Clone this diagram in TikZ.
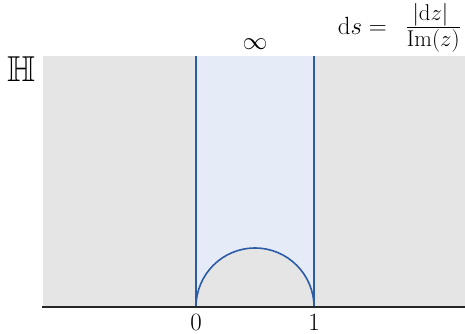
\documentclass[tikz,border=0pt]{standalone}
\usepackage{amssymb}
\usepackage{graphicx}
\definecolor{hgray}{RGB}{229,229,229}
\definecolor{hblue}{RGB}{44,92,168}
\definecolor{hbluefill}{RGB}{229,236,248}
\newcommand{\fracsize}[1]{\scalebox{1.1}{$\scriptstyle #1$}}
\begin{document}
\begin{tikzpicture}[x=1pt,y=-1pt,
  lbl/.style={inner sep=0pt,font=\Huge},
  bline/.style={draw=hblue,line width=1.6pt}]
\useasboundingbox (0,0) rectangle (465,333);
% half-plane
\fill[hgray] (42.5,56) rectangle (465,307);
% strip above the arc
\fill[hbluefill] (196,56) -- (196,307) arc[start angle=180,end angle=360,radius=59] -- (314,56) -- cycle;
\draw[bline] (196,56) -- (196,307);
\draw[bline] (314,56) -- (314,307);
\draw[bline] (196,307) arc[start angle=180,end angle=360,radius=59];
% axis
\draw[line width=2.2pt,black!85] (42,307) -- (465,307);
% labels
\node[lbl,font=\fontsize{36}{40}\selectfont] (H) at (21,69) {$\mathbb{H}$};
\node[lbl] (inf) at (255,44.5) {$\infty$};
\node[lbl,anchor=base east] (ds) at (461,34) {$\mathrm{d}s=\hspace{12pt}\frac{\fracsize{|\mathrm{d}z|}}{\fracsize{\mathrm{Im}(z)}}$};
\node[lbl,anchor=north] (zero) at (196,314.5) {$0$};
\node[lbl,anchor=north] (one) at (314,314.5) {$1$};
\end{tikzpicture}
\end{document}
